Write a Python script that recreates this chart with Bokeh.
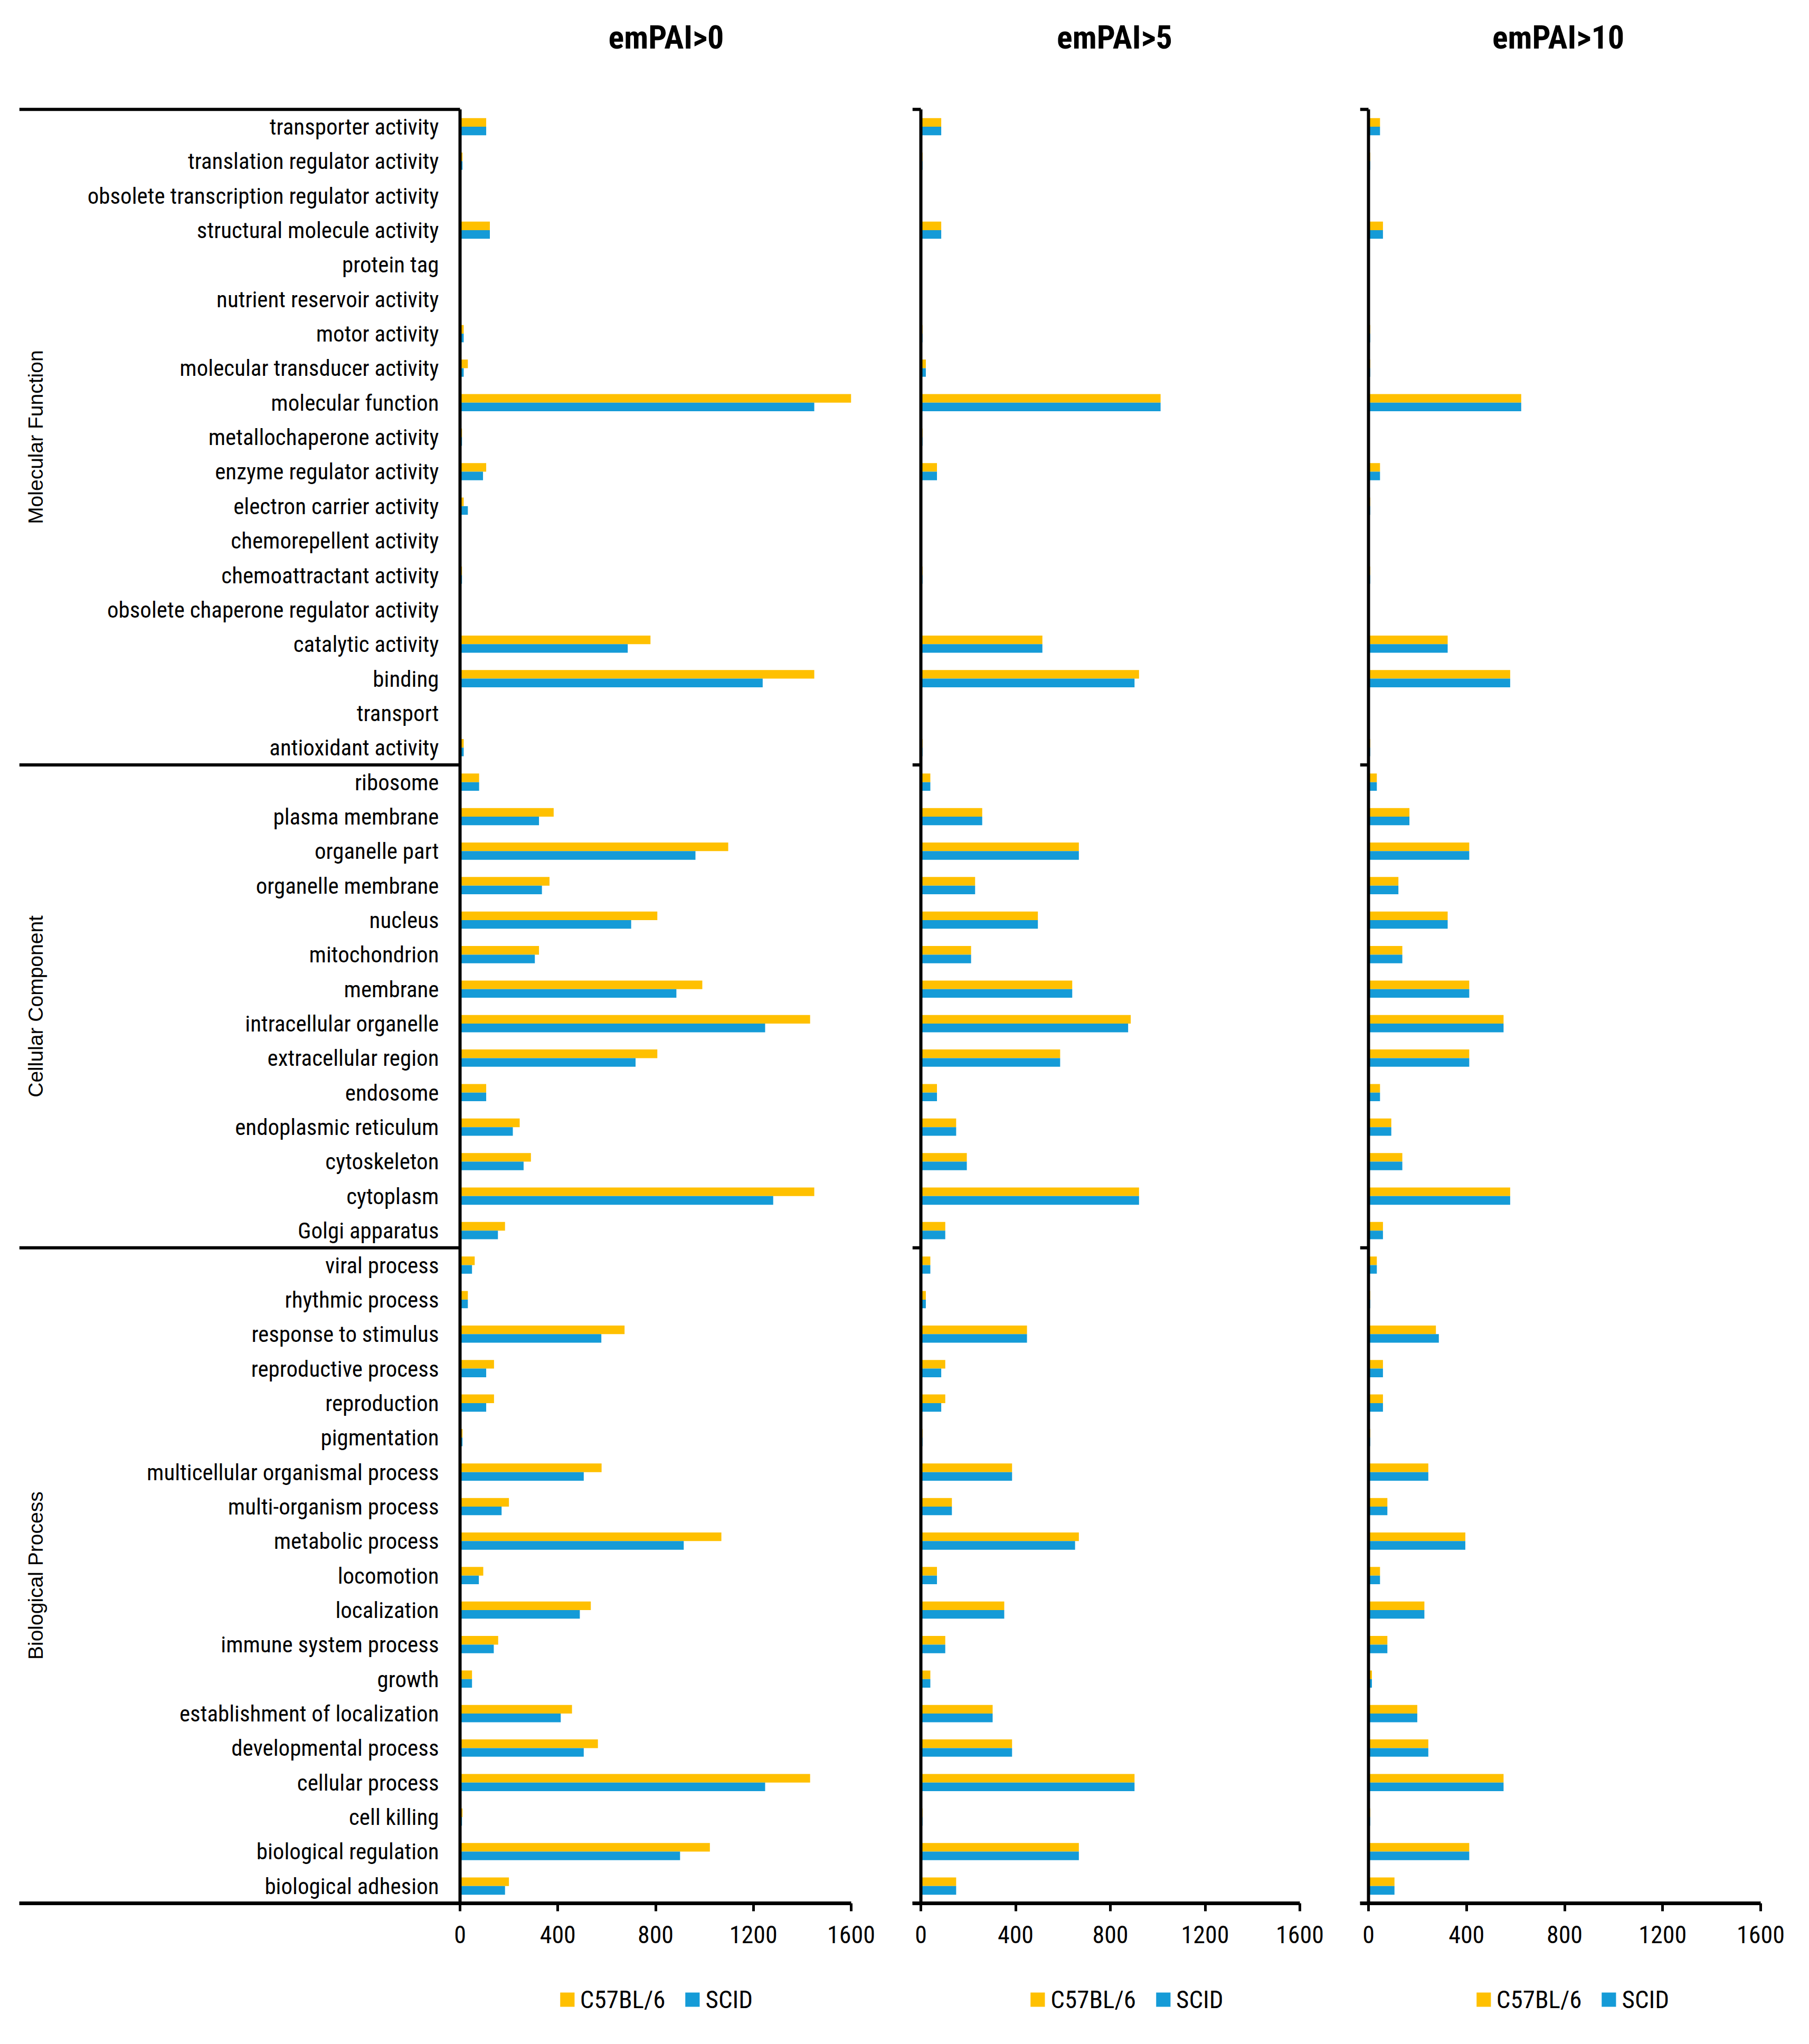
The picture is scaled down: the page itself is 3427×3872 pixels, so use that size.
import math
from bokeh.plotting import figure
from bokeh.models import ColumnDataSource, FixedTicker, Legend, LegendItem, Range1d
from bokeh.layouts import row, column
from bokeh.transform import dodge
from bokeh.core.properties import value
from bokeh.embed import file_html
from bokeh.resources import INLINE

# ---------------- data ----------------
groups = ["Molecular Function", "Cellular Component", "Biological Process"]

mf_terms = ["transporter activity", "translation regulator activity",
            "obsolete transcription regulator activity", "structural molecule activity",
            "protein tag", "nutrient reservoir activity", "motor activity",
            "molecular transducer activity", "molecular function", "metallochaperone activity",
            "enzyme regulator activity", "electron carrier activity", "chemorepellent activity",
            "chemoattractant activity", "obsolete chaperone regulator activity",
            "catalytic activity", "binding", "transport", "antioxidant activity"]
cc_terms = ["ribosome", "plasma membrane", "organelle part", "organelle membrane", "nucleus",
            "mitochondrion", "membrane", "intracellular organelle", "extracellular region",
            "endosome", "endoplasmic reticulum", "cytoskeleton", "cytoplasm", "Golgi apparatus"]
bp_terms = ["viral process", "rhythmic process", "response to stimulus", "reproductive process",
            "reproduction", "pigmentation", "multicellular organismal process",
            "multi-organism process", "metabolic process", "locomotion", "localization",
            "immune system process", "growth", "establishment of localization",
            "developmental process", "cellular process", "cell killing",
            "biological regulation", "biological adhesion"]

titles = ["emPAI>0", "emPAI>5", "emPAI>10"]
series_names = ["C57BL/6", "SCID"]
x_ticks = [0, 400, 800, 1200, 1600]

# emPAI>0
c57_e0 = ([107, 10, 0, 122, 0, 0, 15, 32, 1600, 8, 107, 15, 5, 8, 0, 779, 1449, 0, 15]
          + [78, 383, 1097, 366, 807, 323, 991, 1432, 807, 107, 244, 290, 1449, 184]
          + [60, 32, 673, 139, 139, 10, 579, 200, 1069, 95, 535, 156, 49, 458, 564, 1432, 10, 1022, 200])
scid_e0 = ([107, 10, 0, 122, 0, 0, 15, 15, 1449, 8, 94, 32, 2, 8, 0, 686, 1238, 0, 15]
           + [78, 323, 963, 335, 700, 306, 885, 1248, 718, 107, 216, 260, 1281, 155]
           + [49, 32, 578, 107, 107, 10, 506, 170, 915, 77, 490, 138, 49, 412, 506, 1248, 8, 900, 184])
# emPAI>5
c57_e5 = ([86, 7, 0, 86, 0, 0, 7, 21, 1012, 7, 68, 0, 0, 7, 0, 513, 921, 0, 7]
          + [40, 259, 667, 229, 494, 212, 639, 886, 588, 68, 149, 194, 921, 103]
          + [40, 21, 448, 103, 103, 7, 385, 131, 667, 68, 352, 103, 40, 303, 385, 902, 7, 667, 149])
scid_e5 = ([86, 7, 0, 86, 0, 0, 7, 21, 1012, 7, 68, 0, 0, 7, 0, 513, 902, 0, 7]
           + [40, 259, 667, 229, 494, 212, 639, 875, 588, 68, 149, 194, 921, 103]
           + [40, 21, 448, 86, 86, 7, 385, 131, 651, 68, 352, 103, 40, 303, 385, 902, 7, 667, 149])
# emPAI>10
c57_e10 = ([47, 7, 0, 59, 0, 0, 7, 7, 623, 0, 47, 7, 0, 7, 0, 323, 578, 0, 7]
           + [34, 167, 411, 122, 323, 138, 411, 551, 411, 47, 93, 138, 578, 59]
           + [34, 7, 275, 59, 59, 7, 244, 77, 395, 47, 228, 77, 14, 199, 244, 551, 7, 411, 106])
scid_e10 = ([47, 7, 0, 59, 0, 0, 7, 7, 623, 0, 47, 7, 0, 7, 0, 323, 578, 0, 7]
            + [34, 167, 411, 122, 323, 138, 411, 551, 411, 47, 93, 138, 578, 59]
            + [34, 7, 287, 59, 59, 7, 244, 77, 395, 47, 228, 77, 14, 199, 244, 551, 7, 411, 106])

# ---------------- styling / layout constants ----------------
YELLOW = "#FFC000"
BLUE = "#159BD7"
FONT = "Liberation Sans Narrow, Roboto Condensed, Liberation Sans"
GFONT = "Liberation Sans"

categories = mf_terms + cc_terms + bp_terms          # top to bottom
n = len(categories)
ypos = [n - 1 - k for k in range(n)]
sizes = [len(mf_terms), len(cc_terms), len(bp_terms)]
bounds = [n - 0.5]
for s in sizes:
    bounds.append(bounds[-1] - s)
group_centers = [(bounds[i] + bounds[i + 1]) / 2 for i in range(3)]

ROW_PX = 65.35
FRAME_H = 3605
Y_END = -0.5 + FRAME_H / ROW_PX
TITLE_Y = n - 0.5 + 2.1
X_MAX = 1600
BOTTOM = 100
TICK_PAD = 16  # px of frame left of the zero line (for the group ticks)


def base_fig(x_start, frame_w, bl, br, title, title_dx):
    p = figure(frame_width=frame_w, frame_height=FRAME_H,
               x_range=Range1d(x_start, X_MAX), y_range=Range1d(-0.5, Y_END),
               output_backend="svg", toolbar_location=None,
               min_border_left=bl, min_border_right=br,
               min_border_top=0, min_border_bottom=BOTTOM)
    p.outline_line_color = None
    p.xgrid.visible = False
    p.ygrid.visible = False
    p.yaxis.visible = False
    p.background_fill_color = "white"
    ax = p.xaxis[0]
    ax.ticker = FixedTicker(ticks=x_ticks)
    ax.axis_line_width = 7
    ax.major_tick_line_width = 5
    ax.major_tick_out = 15
    ax.major_tick_in = 0
    ax.minor_tick_line_color = None
    ax.major_label_text_font = FONT
    ax.major_label_text_font_size = "46px"
    ax.major_label_text_color = "black"
    ax.major_label_standoff = 27
    # panel title
    p.text(x=[X_MAX / 2], y=[TITLE_Y], text=[title], x_offset=title_dx, text_align="center",
           text_baseline="middle", text_font=value(FONT), text_font_style="bold",
           text_font_size="62px", text_color="black")
    return p


def add_bars(p, c57, scid):
    src = ColumnDataSource(dict(y=ypos, c57=c57, scid=scid))
    p.hbar(y=dodge("y", 0.125), left=0, right="c57", height=0.25,
           fill_color=YELLOW, line_color=None, source=src)
    p.hbar(y=dodge("y", -0.125), left=0, right="scid", height=0.25,
           fill_color=BLUE, line_color=None, source=src)
    # zero line (vertical axis)
    p.segment(x0=[0], x1=[0], y0=[bounds[-1]], y1=[bounds[0]], line_width=6, line_color="black")


# ---- panel 1 (with category labels) ----
P1_FRAME = 1576
P1_DATA_PX = 741.0
x_start1 = X_MAX - P1_FRAME * X_MAX / P1_DATA_PX
p1 = base_fig(x_start1, P1_FRAME, 36, 80, titles[0], 20)
add_bars(p1, c57_e0, scid_e0)
p1.text(x=[0] * n, y=ypos, text=categories, text_align="right", text_baseline="middle",
        x_offset=-40, text_font=value(FONT), text_font_size="43px", text_color="black")
sep_y = bounds[:3]
p1.segment(x0=[x_start1] * len(sep_y), x1=[0] * len(sep_y), y0=sep_y, y1=sep_y,
           line_width=6, line_color="black")
p1.text(x=[x_start1] * 3, y=group_centers, text=groups, angle=math.pi / 2, x_offset=31,
        text_align="center", text_baseline="middle", text_font=value(GFONT),
        text_font_size="39px", text_color="black")


def side_panel(c57, scid, title, title_dx, data_px, bl, br):
    x_start = -TICK_PAD * X_MAX / data_px
    p = base_fig(x_start, int(data_px) + TICK_PAD, bl, br, title, title_dx)
    add_bars(p, c57, scid)
    # small group ticks left of the zero line
    p.segment(x0=[x_start] * len(bounds), x1=[0] * len(bounds), y0=bounds, y1=bounds,
              line_width=6, line_color="black")
    return p


p2 = side_panel(c57_e5, scid_e5, titles[1], 8, 718, 36, 70)
p3 = side_panel(c57_e10, scid_e10, titles[2], -12, 743, 44, 60)


def legend_fig(frame_w, bl, br):
    f = figure(frame_width=frame_w, frame_height=68, min_border_top=48, min_border_bottom=0,
               min_border_left=bl, min_border_right=br, x_range=Range1d(0, 1),
               y_range=Range1d(0, 1), x_axis_type=None, y_axis_type=None,
               output_backend="svg", toolbar_location=None)
    f.outline_line_color = None
    f.xgrid.visible = False
    f.ygrid.visible = False
    # zero-length proxy bars that only carry the legend swatches
    r1 = f.hbar(y=[0], left=[0], right=[0], height=1, fill_color=YELLOW, line_color=None)
    r2 = f.hbar(y=[0], left=[0], right=[0], height=1, fill_color=BLUE, line_color=None)
    leg = Legend(items=[LegendItem(label=series_names[0], renderers=[r1]),
                        LegendItem(label=series_names[1], renderers=[r2])],
                 orientation="horizontal", location="center",
                 padding=0, margin=0, border_line_color=None, background_fill_alpha=0,
                 glyph_width=34, glyph_height=34, label_standoff=8, spacing=34,
                 label_text_font=FONT, label_text_font_size="47px", label_text_color="black")
    f.add_layout(leg)
    return f


l1 = legend_fig(741, 871, 80)
l2 = legend_fig(658, 112, 70)
l3 = legend_fig(715, 88, 60)

layout = column(row(p1, p2, p3, spacing=0), row(l1, l2, l3, spacing=0), spacing=0)
open("out.html", "w").write(file_html(layout, INLINE))
